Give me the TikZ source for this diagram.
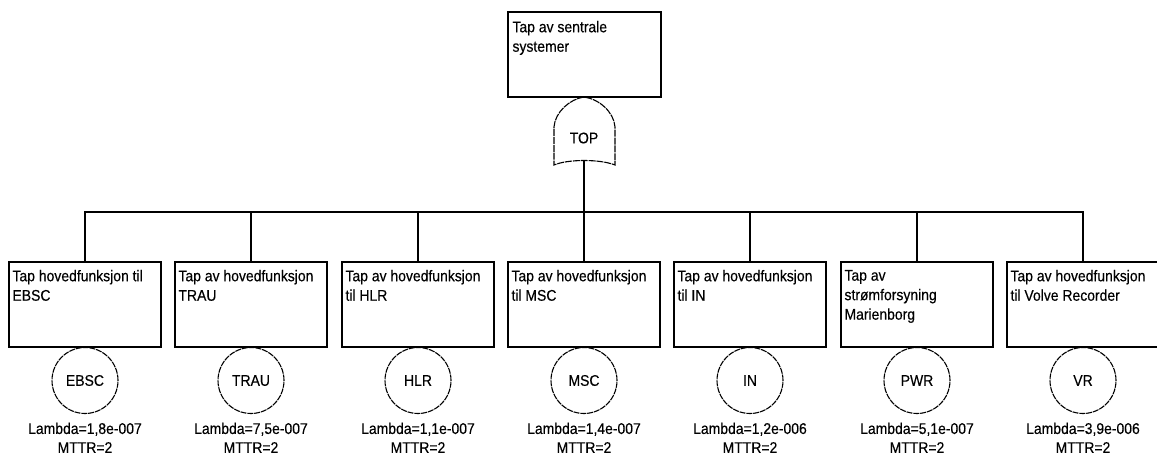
\documentclass[tikz,border=0pt]{standalone}
\usepackage{fontspec}
\setmainfont{Liberation Sans}[FakeStretch=0.9,FakeBold=0.3]
\begin{document}
\begin{tikzpicture}[x=1pt,y=-1pt,
  wire/.style={line width=1.4pt, line join=miter},
  box/.style={draw, line width=1.4pt, minimum width=152pt, minimum height=85pt, inner sep=0pt},
  topbox/.style={box, minimum width=153pt},
  boxtext/.style={anchor=north west, inner sep=0pt, align=left,
    font=\fontsize{15.5}{19.5}\selectfont},
  event/.style={draw, circle, line width=1.1pt, minimum size=66pt, inner sep=0pt,
    dash pattern=on 6pt off 0.9pt, font=\fontsize{15.5}{19}\selectfont},
  rate/.style={anchor=north, inner sep=0pt, align=center,
    font=\fontsize{15.5}{19}\selectfont},
  gatelabel/.style={inner sep=0pt, font=\fontsize{15.5}{19}\selectfont}]
\useasboundingbox (0,0) rectangle (1157,460);

% top event
\node[topbox] (top) at (584.5,54.5) {};
\node[boxtext] (toptext) at ([shift={(5pt,-9.5pt)}]top.north west) {Tap av sentrale\\systemer};

% OR gate
\coordinate (gatetip) at (584,97);
\coordinate (gateout) at (584,160.5);
\draw[line width=1.1pt, dash pattern=on 7pt off 0.9pt]
  (gatetip) .. controls (570,99) and (555,112) .. (554,127) -- (554,165)
  .. controls (568,159) and (600,159) .. (615,165) -- (615,127)
  .. controls (614,112) and (599,99) .. (gatetip);
\node[gatelabel] (gate) at (584,138) {TOP};

% bus from the gate to the basic events
\coordinate (bus) at (584,212);
\draw[wire] (gateout) -- (bus);

\foreach \cx/\txt/\ev/\lam in {
  85/{Tap hovedfunksjon til\\EBSC}/EBSC/{1,8e-007},
  251/{Tap av hovedfunksjon\\TRAU}/TRAU/{7,5e-007},
  418/{Tap av hovedfunksjon\\til HLR}/HLR/{1,1e-007},
  584/{Tap av hovedfunksjon\\til MSC}/MSC/{1,4e-007},
  750/{Tap av hovedfunksjon\\til IN}/IN/{1,2e-006},
  917/{Tap av\\strømforsyning\\Marienborg}/PWR/{5,1e-007},
  1083/{Tap av hovedfunksjon\\til Volve Recorder}/VR/{3,9e-006}}{
  \node[box] (box\ev) at (\cx,304.5) {};
  \node[boxtext] (txt\ev) at ([shift={(4pt,-8.5pt)}]box\ev.north west) {\txt};
  \node[event] (ev\ev) at (\cx,380.5) {\ev};
  \node[rate] (rate\ev) at (\cx,422.5) {Lambda=\lam\\MTTR=2};
  \draw[wire] (bus) -| (box\ev.north);
}
\end{tikzpicture}
\end{document}
